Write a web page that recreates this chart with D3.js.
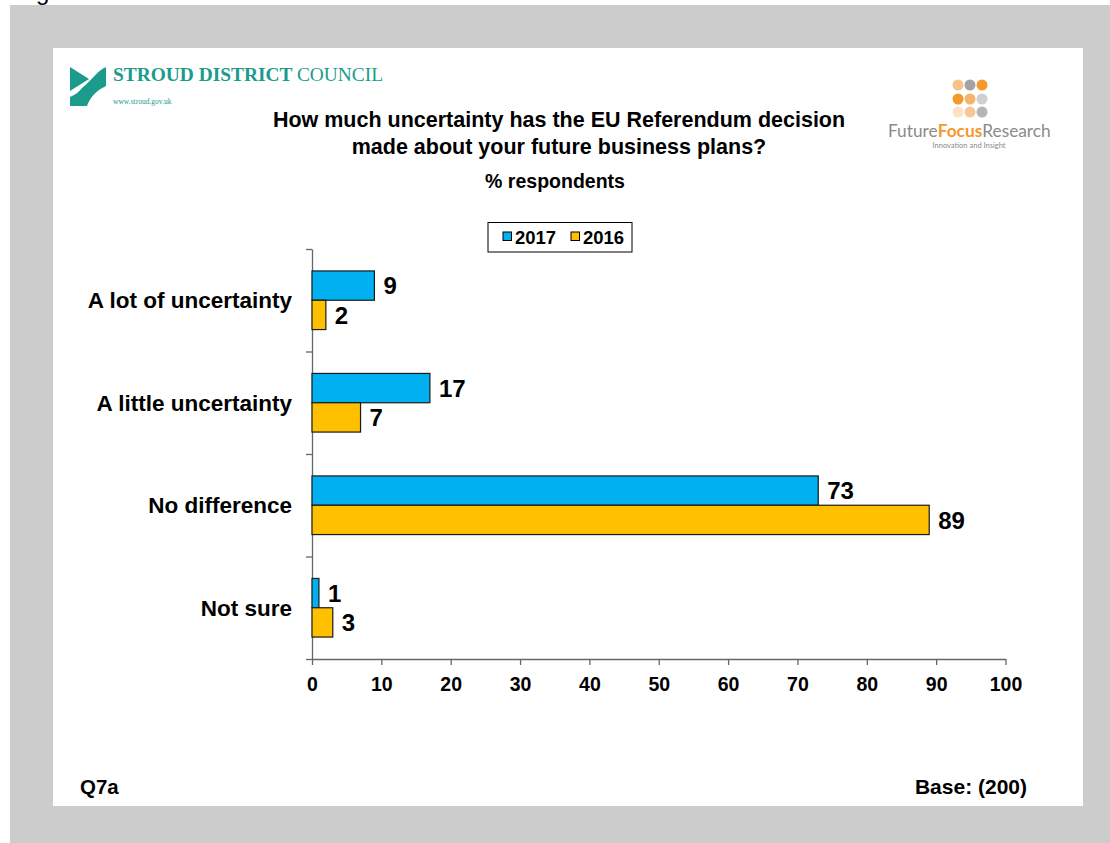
<!DOCTYPE html>
<html>
<head>
<meta charset="utf-8">
<script src="https://cdn.jsdelivr.net/npm/d3@7"></script>
<style>
  html, body { margin: 0; padding: 0; background: #ffffff; }
  svg { display: block; font-family: Arial, "Liberation Sans", sans-serif; }
</style>
</head>
<body>
<svg id="chart" width="1110" height="843"></svg>
<script>
// Survey responses (% of respondents)
const categories = ["A lot of uncertainty", "A little uncertainty", "No difference", "Not sure"];
const seriesNames = ["2017", "2016"];
const values2017 = [9, 17, 73, 1];
const values2016 = [2, 7, 89, 3];
const xTicks = [0, 10, 20, 30, 40, 50, 60, 70, 80, 90, 100];
const seriesColors = ["#00B0F0", "#FFC000"];

const svg = d3.select("#chart");
const serif = "'Liberation Serif', 'DejaVu Serif', serif";
const logoSans = "Lato, 'Open Sans', sans-serif";

// Page frame: grey surround with a white slide panel
svg.append("text").attr("x", 36).attr("y", 0).attr("font-size", 24).attr("fill", "#000").text("g");
svg.append("rect").attr("x", 10).attr("y", 5).attr("width", 1100).attr("height", 838).attr("fill", "#cccccc");
svg.append("rect").attr("x", 53).attr("y", 48).attr("width", 1030).attr("height", 758).attr("fill", "#ffffff");

// Stroud District Council logo
const teal = "#1a9b8b";
const logo = svg.append("g");
logo.append("path").attr("fill", teal)
  .attr("d", "M70,67 L89,79 L70,91 Z");
logo.append("path").attr("fill", teal)
  .attr("d", "M82,88 C92,80 98,70 106,67 L106,86 C97,90 90,97 87,106 L70,106 L70,97 C75,95 79,92 82,88 Z");
const sdc = svg.append("text").attr("x", 113).attr("y", 81)
  .style("font-family", serif).attr("font-size", 19.4).attr("fill", teal);
sdc.append("tspan").attr("font-weight", "bold").text("STROUD DISTRICT ");
sdc.append("tspan").text("COUNCIL");
svg.append("text").attr("x", 113).attr("y", 104)
  .style("font-family", serif).attr("font-size", 7.5).attr("fill", teal)
  .text("www.stroud.gov.uk");

// Future Focus Research logo
const dotX = [958, 970, 982];
const dotY = [85, 99, 112];
const dotColors = [
  ["#f8c28a", "#a3a3a3", "#f39a2b"],
  ["#f29a2e", "#f6b56a", "#d0d0d0"],
  ["#fde1c4", "#f8c896", "#b5b5b5"]
];
dotY.forEach((cy, r) => dotX.forEach((cx, c) => {
  svg.append("circle").attr("cx", cx).attr("cy", cy).attr("r", 5.5).attr("fill", dotColors[r][c]);
}));
const ffr = svg.append("text").attr("x", 888).attr("y", 137)
  .style("font-family", logoSans).attr("font-size", 17.3);
ffr.append("tspan").attr("fill", "#8a8a8a").text("Future");
ffr.append("tspan").attr("fill", "#f39a2b").attr("font-weight", "bold").text("Focus");
ffr.append("tspan").attr("fill", "#8a8a8a").text("Research");
svg.append("text").attr("x", 969).attr("y", 148).attr("text-anchor", "middle")
  .style("font-family", logoSans).attr("font-size", 7.5).attr("fill", "#8a8a8a")
  .text("Innovation and Insight");

// Titles
svg.append("text").attr("x", 559).attr("y", 127).attr("text-anchor", "middle")
  .attr("font-size", 21.5).attr("font-weight", "bold").text("How much uncertainty has the EU Referendum decision");
svg.append("text").attr("x", 559).attr("y", 154).attr("text-anchor", "middle")
  .attr("font-size", 21.5).attr("font-weight", "bold").text("made about your future business plans?");
svg.append("text").attr("x", 555).attr("y", 188).attr("text-anchor", "middle")
  .attr("font-size", 19.5).attr("font-weight", "bold").text("% respondents");

// Scales
const x = d3.scaleLinear().domain([0, 100]).range([312, 1005.5]);
const y = d3.scaleBand().domain(categories).range([249, 659]).paddingInner(0.428).paddingOuter(0.214);
const ySub = d3.scaleBand().domain(seriesNames).range([0, y.bandwidth()]);
const axisColor = "#666666";

// X axis
const xAxis = svg.append("g").attr("transform", "translate(0,659)")
  .call(d3.axisBottom(x).tickValues(xTicks).tickSize(6).tickSizeOuter(0).tickPadding(12));
xAxis.select(".domain").attr("stroke", axisColor).attr("stroke-width", 1.3);
xAxis.selectAll(".tick line").attr("stroke", axisColor).attr("stroke-width", 1.3);
xAxis.selectAll(".tick text").attr("font-size", 19.5).attr("font-weight", "bold").attr("fill", "#000")
  .style("font-family", "Arial, 'Liberation Sans', sans-serif");

// Y axis: line with ticks on the category boundaries
const yBound = d3.scaleLinear().domain([0, categories.length]).range([249, 659]);
const yAxis = svg.append("g").attr("transform", "translate(312,0)")
  .call(d3.axisLeft(yBound).tickValues(d3.range(categories.length + 1)).tickSize(6).tickSizeOuter(0).tickFormat(""));
yAxis.select(".domain").attr("stroke", axisColor).attr("stroke-width", 1.3);
yAxis.selectAll(".tick line").attr("stroke", axisColor).attr("stroke-width", 1.3);

// Category labels
svg.append("g").selectAll("text").data(categories).join("text")
  .attr("x", 292).attr("y", d => y(d) + y.bandwidth() / 2)
  .attr("dy", "0.35em").attr("text-anchor", "end")
  .attr("font-size", 22.5).attr("font-weight", "bold").text(d => d);

// Bars
const rows = categories.map((c, i) => ({ cat: c, vals: [values2017[i], values2016[i]] }));
const groups = svg.append("g").selectAll("g").data(rows).join("g")
  .attr("transform", d => `translate(0,${y(d.cat)})`);
groups.selectAll("rect").data(d => d.vals.map((v, j) => ({ v, s: seriesNames[j], j }))).join("rect")
  .attr("x", x(0)).attr("y", d => ySub(d.s))
  .attr("width", d => x(d.v) - x(0)).attr("height", ySub.bandwidth())
  .attr("fill", d => seriesColors[d.j]).attr("stroke", "#1a1a1a").attr("stroke-width", 1.2);
groups.selectAll("text").data(d => d.vals.map((v, j) => ({ v, s: seriesNames[j] }))).join("text")
  .attr("x", d => x(d.v) + 9).attr("y", d => ySub(d.s) + ySub.bandwidth() / 2)
  .attr("dy", "0.36em").attr("font-size", 24).attr("font-weight", "bold").text(d => d.v);

// Legend
const legend = svg.append("g");
legend.append("rect").attr("x", 488).attr("y", 222.5).attr("width", 144).attr("height", 29.5)
  .attr("fill", "#fff").attr("stroke", "#000").attr("stroke-width", 1);
const legendX = [503, 571];
seriesNames.forEach((s, i) => {
  legend.append("rect").attr("x", legendX[i]).attr("y", 232).attr("width", 8.5).attr("height", 8.5)
    .attr("fill", seriesColors[i]).attr("stroke", "#000").attr("stroke-width", 1);
  legend.append("text").attr("x", legendX[i] + 12).attr("y", 243.5)
    .attr("font-size", 18.5).attr("font-weight", "bold").text(s);
});

// Footer
svg.append("text").attr("x", 80).attr("y", 794).attr("font-size", 20.5).attr("font-weight", "bold").text("Q7a");
svg.append("text").attr("x", 1027).attr("y", 794).attr("text-anchor", "end")
  .attr("font-size", 21).attr("font-weight", "bold").text("Base: (200)");
</script>
</body>
</html>
